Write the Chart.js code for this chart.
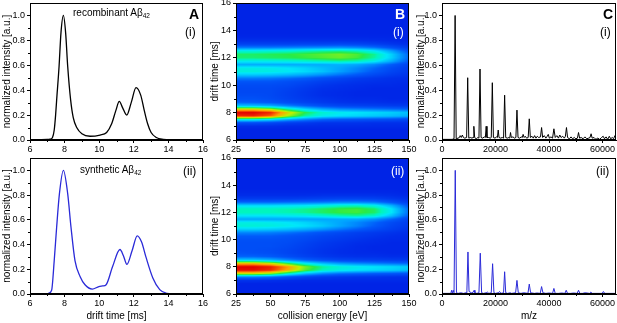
<!DOCTYPE html>
<html>
<head>
<meta charset="utf-8">
<script src="https://cdn.jsdelivr.net/npm/chart.js@4.4.0/dist/chart.umd.min.js"></script>
<style>
body { margin: 0; background: #fff; width: 617px; height: 323px; position: relative; overflow: hidden; font-family: "Liberation Sans", Arial, sans-serif; }
canvas { position: absolute; }
.lbl { position: absolute; white-space: nowrap; line-height: 1; color: #000; }
.lbl sub { font-size: 65%; vertical-align: -2px; }
.big { font-weight: bold; font-size: 14px; }
.num { font-size: 12px; }
.w { color: #fff; }
</style>
</head>
<body>
<canvas id="a1" width="215" height="163" style="left:0;top:-6px"></canvas>
<canvas id="a2" width="215" height="175" style="left:0;top:148px"></canvas>
<canvas id="b1" width="213" height="163" style="left:208px;top:-6px"></canvas>
<canvas id="b2" width="213" height="175" style="left:208px;top:148px"></canvas>
<canvas id="c1" width="203" height="163" style="left:414px;top:-6px"></canvas>
<canvas id="c2" width="203" height="175" style="left:414px;top:148px"></canvas>

<div class="lbl" style="left:73px;top:8px;font-size:10px">recombinant Aβ<sub>42</sub></div>
<div class="lbl big" style="left:189px;top:7px">A</div>
<div class="lbl num" style="left:185px;top:26px">(i)</div>
<div class="lbl" style="left:80px;top:165px;font-size:10px">synthetic Aβ<sub>42</sub></div>
<div class="lbl num" style="left:183px;top:165px">(ii)</div>
<div class="lbl big w" style="left:395px;top:7px">B</div>
<div class="lbl num w" style="left:393px;top:26px">(i)</div>
<div class="lbl num w" style="left:391px;top:165px">(ii)</div>
<div class="lbl big" style="left:603px;top:7px">C</div>
<div class="lbl num" style="left:600px;top:26px">(i)</div>
<div class="lbl num" style="left:596px;top:165px">(ii)</div>

<script>
// tick labels and minor ticks
const driftTicks = [6, 8, 10, 12, 14, 16];
const driftMinor = [7, 9, 11, 13, 15];
const intensityTicks = [0, 0.2, 0.4, 0.6, 0.8, 1.0];
const intensityMinor = [0.1, 0.3, 0.5, 0.7, 0.9];
const energyTicks = [25, 50, 75, 100, 125, 150];
const energyMinor = [37.5, 62.5, 87.5, 112.5, 137.5];
const mzTicks = [0, 20000, 40000, 60000];
const mzMinor = [10000, 30000, 50000];

// A: arrival time distributions
const driftRecomb = [6.0, 6.5, 7.0, 7.15, 7.3, 7.4, 7.48, 7.54, 7.68, 7.79,
    7.93, 8.06, 8.18, 8.35, 8.5, 8.7, 9.0, 9.47, 10.05, 10.43,
    10.72, 10.97, 11.16, 11.35, 11.59, 11.85, 12.13, 12.4, 12.6, 12.8,
    13.0, 13.3, 13.7, 14.2, 16.0];
const intRecomb = [0, 0.002, 0.004, 0.006, 0.02, 0.08, 0.2, 0.32, 0.59, 0.86,
    1.0, 0.86, 0.59, 0.32, 0.18, 0.1, 0.05, 0.03, 0.04, 0.06,
    0.13, 0.24, 0.31, 0.26, 0.2, 0.3, 0.42, 0.36, 0.24, 0.13,
    0.06, 0.02, 0.005, 0.001, 0];

const driftSynth = [6.0, 6.5, 7.0, 7.1, 7.25, 7.4, 7.54, 7.7, 7.93, 8.18,
    8.37, 8.6, 8.9, 9.18, 9.6, 9.98, 10.2, 10.4, 10.77, 11.2,
    11.4, 11.6, 11.9, 12.2, 12.45, 12.7, 13.1, 13.5, 13.9, 14.3,
    16.0];
const intSynth = [0, 0.001, 0.003, 0.008, 0.03, 0.27, 0.54, 0.81, 1.0, 0.81,
    0.54, 0.27, 0.14, 0.075, 0.04, 0.06, 0.065, 0.075, 0.22, 0.36,
    0.31, 0.24, 0.35, 0.47, 0.42, 0.3, 0.13, 0.035, 0.005, 0.001,
    0];

// B: drift time vs collision energy maps (rows = drift times, cols = energies)
const energies = [25, 37.5, 50, 62.5, 75, 87.5, 100, 112.5, 125, 137.5, 150];
const driftTimes = [6, 6.25, 6.5, 6.75, 7, 7.25, 7.5, 7.75, 8, 8.25,
    8.5, 8.75, 9, 9.25, 9.5, 9.75, 10, 10.25, 10.5, 10.75,
    11, 11.25, 11.5, 11.75, 12, 12.25, 12.5, 12.75, 13, 13.25,
    13.5, 13.75, 14, 14.25, 14.5, 14.75, 15, 15.25, 15.5, 15.75, 16];
const zeroRow = [0, 0, 0, 0, 0, 0, 0, 0, 0, 0, 0];

const mapRecomb = [
    zeroRow, zeroRow, zeroRow, zeroRow,
    [0.03, 0.03, 0.03, 0.02, 0.02, 0.02, 0.02, 0.02, 0.02, 0.02, 0.02],
    [0.14, 0.14, 0.12, 0.09, 0.07, 0.05, 0.05, 0.05, 0.04, 0.04, 0.04],
    [0.46, 0.46, 0.42, 0.33, 0.26, 0.2, 0.17, 0.16, 0.15, 0.14, 0.12],
    [0.94, 0.95, 0.88, 0.68, 0.52, 0.44, 0.41, 0.39, 0.37, 0.35, 0.32],
    [1.0, 1.0, 0.95, 0.75, 0.58, 0.48, 0.44, 0.42, 0.4, 0.38, 0.35],
    [0.74, 0.74, 0.68, 0.52, 0.4, 0.32, 0.27, 0.25, 0.23, 0.21, 0.19],
    [0.36, 0.35, 0.32, 0.25, 0.19, 0.14, 0.11, 0.1, 0.09, 0.08, 0.07],
    [0.2, 0.19, 0.17, 0.13, 0.1, 0.07, 0.05, 0.04, 0.04, 0.03, 0.03],
    [0.15, 0.15, 0.13, 0.1, 0.07, 0.05, 0.03, 0.02, 0.02, 0.01, 0.01],
    [0.13, 0.13, 0.12, 0.09, 0.06, 0.03, 0.02, 0.01, 0.01, 0.01, 0.01],
    [0.12, 0.12, 0.12, 0.09, 0.06, 0.03, 0.02, 0.01, 0.01, 0.01, 0.01],
    [0.12, 0.12, 0.12, 0.1, 0.07, 0.04, 0.03, 0.02, 0.01, 0.01, 0.01],
    [0.13, 0.13, 0.13, 0.12, 0.09, 0.06, 0.04, 0.03, 0.02, 0.02, 0.01],
    [0.16, 0.16, 0.16, 0.14, 0.12, 0.09, 0.07, 0.05, 0.04, 0.03, 0.02],
    [0.24, 0.24, 0.23, 0.21, 0.18, 0.14, 0.11, 0.08, 0.06, 0.04, 0.03],
    [0.37, 0.37, 0.36, 0.34, 0.31, 0.27, 0.22, 0.17, 0.12, 0.08, 0.05],
    [0.46, 0.46, 0.45, 0.43, 0.4, 0.36, 0.3, 0.24, 0.17, 0.11, 0.07],
    [0.45, 0.45, 0.44, 0.42, 0.39, 0.35, 0.31, 0.26, 0.2, 0.13, 0.08],
    [0.32, 0.32, 0.32, 0.32, 0.32, 0.32, 0.33, 0.31, 0.26, 0.18, 0.1],
    [0.44, 0.44, 0.45, 0.46, 0.48, 0.5, 0.52, 0.5, 0.44, 0.32, 0.17],
    [0.55, 0.55, 0.56, 0.57, 0.59, 0.61, 0.63, 0.6, 0.52, 0.38, 0.2],
    [0.56, 0.56, 0.57, 0.58, 0.6, 0.62, 0.64, 0.61, 0.53, 0.38, 0.2],
    [0.46, 0.46, 0.47, 0.48, 0.5, 0.52, 0.53, 0.5, 0.43, 0.3, 0.15],
    [0.24, 0.24, 0.24, 0.25, 0.26, 0.27, 0.28, 0.26, 0.22, 0.15, 0.08],
    [0.1, 0.1, 0.1, 0.1, 0.11, 0.11, 0.12, 0.11, 0.09, 0.06, 0.03],
    [0.04, 0.04, 0.04, 0.04, 0.04, 0.04, 0.04, 0.04, 0.03, 0.02, 0.01],
    [0.01, 0.01, 0.01, 0.01, 0.01, 0.01, 0.01, 0.01, 0.01, 0.01, 0],
    zeroRow, zeroRow, zeroRow, zeroRow, zeroRow, zeroRow, zeroRow, zeroRow, zeroRow, zeroRow
];

const mapSynth = [
    zeroRow, zeroRow, zeroRow, zeroRow,
    [0.05, 0.05, 0.04, 0.03, 0.02, 0.02, 0.02, 0.02, 0.02, 0.02, 0.02],
    [0.25, 0.25, 0.22, 0.15, 0.1, 0.07, 0.06, 0.05, 0.05, 0.04, 0.04],
    [0.72, 0.72, 0.66, 0.5, 0.36, 0.27, 0.22, 0.2, 0.18, 0.17, 0.15],
    [0.98, 0.98, 0.94, 0.8, 0.62, 0.5, 0.45, 0.42, 0.4, 0.38, 0.35],
    [1.0, 1.0, 0.96, 0.83, 0.65, 0.53, 0.47, 0.44, 0.42, 0.4, 0.37],
    [0.78, 0.78, 0.72, 0.58, 0.44, 0.35, 0.29, 0.26, 0.24, 0.22, 0.2],
    [0.38, 0.37, 0.33, 0.26, 0.19, 0.14, 0.11, 0.1, 0.09, 0.08, 0.07],
    [0.2, 0.2, 0.18, 0.14, 0.1, 0.07, 0.05, 0.04, 0.04, 0.03, 0.03],
    [0.16, 0.15, 0.14, 0.11, 0.08, 0.05, 0.03, 0.02, 0.02, 0.01, 0.01],
    [0.14, 0.14, 0.13, 0.11, 0.08, 0.05, 0.03, 0.02, 0.01, 0.01, 0.01],
    [0.14, 0.14, 0.14, 0.12, 0.09, 0.06, 0.04, 0.02, 0.01, 0.01, 0.01],
    [0.14, 0.14, 0.14, 0.13, 0.1, 0.07, 0.05, 0.03, 0.02, 0.01, 0.01],
    [0.15, 0.15, 0.15, 0.14, 0.12, 0.09, 0.07, 0.05, 0.03, 0.02, 0.02],
    [0.18, 0.18, 0.18, 0.16, 0.14, 0.11, 0.09, 0.07, 0.05, 0.03, 0.02],
    [0.25, 0.25, 0.24, 0.22, 0.19, 0.15, 0.12, 0.09, 0.07, 0.05, 0.03],
    [0.38, 0.38, 0.37, 0.35, 0.32, 0.28, 0.23, 0.18, 0.13, 0.09, 0.05],
    [0.47, 0.47, 0.46, 0.44, 0.41, 0.37, 0.31, 0.25, 0.18, 0.11, 0.07],
    [0.45, 0.45, 0.44, 0.42, 0.39, 0.35, 0.31, 0.26, 0.2, 0.13, 0.08],
    [0.31, 0.31, 0.31, 0.31, 0.31, 0.31, 0.32, 0.32, 0.28, 0.2, 0.1],
    [0.42, 0.42, 0.42, 0.43, 0.44, 0.47, 0.5, 0.52, 0.48, 0.35, 0.18],
    [0.5, 0.5, 0.5, 0.51, 0.53, 0.56, 0.59, 0.6, 0.56, 0.42, 0.21],
    [0.5, 0.5, 0.5, 0.51, 0.53, 0.56, 0.59, 0.6, 0.56, 0.42, 0.21],
    [0.4, 0.4, 0.4, 0.41, 0.42, 0.45, 0.48, 0.49, 0.45, 0.33, 0.16],
    [0.2, 0.2, 0.2, 0.21, 0.22, 0.23, 0.25, 0.25, 0.23, 0.16, 0.08],
    [0.08, 0.08, 0.08, 0.08, 0.09, 0.1, 0.11, 0.11, 0.1, 0.07, 0.04],
    [0.03, 0.03, 0.03, 0.03, 0.03, 0.04, 0.04, 0.04, 0.04, 0.03, 0.01],
    [0.01, 0.01, 0.01, 0.01, 0.01, 0.01, 0.01, 0.01, 0.01, 0.01, 0],
    zeroRow, zeroRow, zeroRow, zeroRow, zeroRow, zeroRow, zeroRow, zeroRow, zeroRow, zeroRow
];

// C: mass spectra
const mzRecomb = [0, 3800, 4500, 4900, 5300, 6000, 6500, 6800, 7200, 7600,
    8000, 8500, 9200, 9600, 10000, 10600, 11200, 11600, 11900, 12200,
    12800, 13400, 13800, 14200, 14600, 15200, 15800, 16200, 16500, 16800,
    17400, 18000, 18400, 18800, 19200, 19800, 20400, 20700, 21000, 21300,
    21900, 22500, 23000, 23400, 23800, 24400, 25000, 25300, 25600, 25900,
    26500, 27100, 27600, 28000, 28400, 29000, 29600, 30000, 30300, 30700,
    31100, 31600, 32200, 32600, 33000, 33600, 34100, 34600, 35100, 35600,
    36100, 36800, 37200, 37600, 38200, 38800, 39300, 39700, 40100, 40700,
    41300, 41800, 42300, 42900, 43500, 44000, 44500, 45100, 45700, 46100,
    46500, 46900, 47600, 48200, 48800, 49400, 50000, 50600, 51000, 51400,
    52000, 52700, 53400, 54100, 54800, 55300, 55700, 56100, 56800, 57500,
    58200, 58900, 59600, 60200, 60700, 61300, 61900, 62500, 63000, 63600,
    64100, 64600, 65000];
const intMsRecomb = [0.005, 0.005, 0.01, 1.0, 0.01, 0.015, 0.02, 0.035, 0.02, 0.04,
    0.02, 0.015, 0.02, 0.5, 0.015, 0.02, 0.015, 0.02, 0.11, 0.02,
    0.01, 0.02, 0.015, 0.57, 0.02, 0.015, 0.025, 0.02, 0.11, 0.02,
    0.02, 0.015, 0.02, 0.46, 0.02, 0.015, 0.025, 0.02, 0.08, 0.02,
    0.015, 0.02, 0.015, 0.36, 0.02, 0.015, 0.02, 0.015, 0.06, 0.02,
    0.025, 0.015, 0.02, 0.24, 0.02, 0.015, 0.025, 0.02, 0.045, 0.02,
    0.03, 0.015, 0.02, 0.17, 0.02, 0.03, 0.015, 0.035, 0.015, 0.03,
    0.02, 0.025, 0.1, 0.02, 0.035, 0.015, 0.03, 0.045, 0.015, 0.025,
    0.015, 0.09, 0.02, 0.035, 0.015, 0.04, 0.02, 0.03, 0.015, 0.03,
    0.1, 0.02, 0.01, 0.025, 0.01, 0.02, 0.01, 0.015, 0.06, 0.015,
    0.02, 0.01, 0.025, 0.01, 0.015, 0.02, 0.05, 0.015, 0.02, 0.005,
    0.015, 0.005, 0.02, 0.03, 0.01, 0.025, 0.005, 0.03, 0.01, 0.02,
    0.01, 0.035, 0.01];

const mzSynth = [0, 3300, 3600, 3900, 4200, 4500, 4950, 5400, 6000, 7000,
    8000, 9000, 9300, 9700, 10100, 11000, 11700, 12000, 12300, 13000,
    13800, 14300, 14800, 15500, 16500, 17000, 17500, 18400, 18900, 19400,
    20000, 21000, 21500, 22000, 23000, 23400, 23800, 24500, 25500, 26000,
    27500, 28000, 28500, 29500, 30500, 32100, 32600, 33100, 34500, 35500,
    36700, 37200, 37700, 38800, 40000, 41300, 41800, 42300, 43500, 44700,
    45900, 46400, 46900, 48000, 49200, 50500, 51000, 51500, 52500, 53500,
    55100, 55600, 56100, 57500, 59000, 59800, 60300, 60800, 62000, 63500,
    65000];
const intMsSynth = [0.005, 0.005, 0.03, 0.005, 0.03, 0.01, 1.0, 0.01, 0.005, 0.01,
    0.005, 0.01, 0.03, 0.34, 0.02, 0.01, 0.015, 0.03, 0.01, 0.005,
    0.01, 0.33, 0.01, 0.005, 0.01, 0.015, 0.005, 0.01, 0.245, 0.01,
    0.005, 0.01, 0.02, 0.005, 0.01, 0.18, 0.01, 0.005, 0.01, 0.005,
    0.01, 0.11, 0.01, 0.005, 0.01, 0.005, 0.08, 0.01, 0.005, 0.008,
    0.005, 0.06, 0.01, 0.005, 0.008, 0.005, 0.045, 0.005, 0.005, 0.008,
    0.005, 0.03, 0.005, 0.005, 0.008, 0.005, 0.03, 0.005, 0.005, 0.01,
    0.005, 0.015, 0.005, 0.005, 0.005, 0.005, 0.02, 0.005, 0.005, 0.005,
    0.005];

const BLUE = '#2a2ad8';

Chart.defaults.font.family = "'Liberation Sans', Arial, sans-serif";
Chart.defaults.font.size = 9;
Chart.defaults.color = '#000';
Chart.defaults.animation = false;

function toPoints(xs, ys) {
    return xs.map((x, i) => ({ x: x, y: ys[i] }));
}

// full frame round the plot area, plus short minor ticks on the two axes
function framePlugin(xMinor, yMinor) {
    return {
        id: 'frame',
        afterDraw(chart) {
            const { left, top, right, bottom } = chart.chartArea;
            const ctx = chart.ctx;
            const L = Math.round(left), T = Math.round(top), R = Math.round(right), B = Math.round(bottom);
            ctx.save();
            ctx.strokeStyle = '#000';
            ctx.lineWidth = 1;
            ctx.strokeRect(L + 0.5, T + 0.5, R - L - 1, B - T - 1);
            ctx.beginPath();
            xMinor.forEach(v => {
                const px = Math.round(chart.scales.x.getPixelForValue(v)) + 0.5;
                ctx.moveTo(px, B);
                ctx.lineTo(px, B + 2);
            });
            yMinor.forEach(v => {
                const py = Math.round(chart.scales.y.getPixelForValue(v)) + 0.5;
                ctx.moveTo(L, py);
                ctx.lineTo(L - 2, py);
            });
            ctx.stroke();
            ctx.restore();
        }
    };
}

const colorStops = [
    [0, [0, 36, 230]], [0.18, [0, 90, 250]], [0.3, [0, 160, 255]], [0.42, [0, 230, 250]],
    [0.5, [0, 245, 190]], [0.58, [40, 235, 70]], [0.7, [190, 240, 0]], [0.82, [255, 160, 0]],
    [0.92, [245, 60, 0]], [1, [225, 0, 0]]
];

function colorFor(v) {
    v = Math.max(0, Math.min(1, v));
    for (let i = 1; i < colorStops.length; i++) {
        if (v <= colorStops[i][0]) {
            const [v0, c0] = colorStops[i - 1];
            const [v1, c1] = colorStops[i];
            const t = (v - v0) / (v1 - v0);
            return [0, 1, 2].map(k => c0[k] + (c1[k] - c0[k]) * t);
        }
    }
    return colorStops[colorStops.length - 1][1];
}

function findCell(arr, v) {
    if (v <= arr[0]) return [0, 0];
    const n = arr.length - 1;
    if (v >= arr[n]) return [n - 1, 1];
    let i = 0;
    while (arr[i + 1] < v) i++;
    return [i, (v - arr[i]) / (arr[i + 1] - arr[i])];
}

function sampleMap(grid, ce, dt) {
    const [i, fx] = findCell(energies, ce);
    const [j, fy] = findCell(driftTimes, dt);
    const a = grid[j][i], b = grid[j][i + 1], c = grid[j + 1][i], d = grid[j + 1][i + 1];
    return (a * (1 - fx) + b * fx) * (1 - fy) + (c * (1 - fx) + d * fx) * fy;
}

// paints the map under the frame, pixel by pixel through the chart scales
function heatPlugin(grid) {
    return {
        id: 'heat',
        beforeDatasetsDraw(chart) {
            const { left, top, right, bottom } = chart.chartArea;
            const w = Math.round(right - left), h = Math.round(bottom - top);
            const xs = chart.scales.x, ys = chart.scales.y;
            const off = document.createElement('canvas');
            off.width = w; off.height = h;
            const octx = off.getContext('2d');
            const img = octx.createImageData(w, h);
            for (let py = 0; py < h; py++) {
                const dt = ys.getValueForPixel(top + py + 0.5);
                for (let px = 0; px < w; px++) {
                    const ce = xs.getValueForPixel(left + px + 0.5);
                    const c = colorFor(sampleMap(grid, ce, dt));
                    const k = (py * w + px) * 4;
                    img.data[k] = c[0]; img.data[k + 1] = c[1]; img.data[k + 2] = c[2]; img.data[k + 3] = 255;
                }
            }
            octx.putImageData(img, 0, 0);
            chart.ctx.drawImage(off, Math.round(left), Math.round(top));
        }
    };
}

function setTicks(values) {
    return s => { s.ticks = values.map(v => ({ value: v })); };
}

function axisX(min, max, values, fmt, title, height) {
    return {
        type: 'linear', min: min, max: max,
        afterFit: s => { s.height = height; },
        afterBuildTicks: setTicks(values),
        ticks: { padding: 1, callback: fmt },
        grid: { drawOnChartArea: false, tickLength: 3, color: '#000' },
        border: { color: '#000' },
        title: { display: !!title, text: title || '', font: { size: 10 }, padding: { top: 0, bottom: 1 } }
    };
}

function axisY(min, max, values, fmt, title, width) {
    return {
        type: 'linear', min: min, max: max,
        afterFit: s => { s.width = width; },
        afterBuildTicks: setTicks(values),
        ticks: { padding: 2, callback: fmt },
        grid: { drawOnChartArea: false, tickLength: 3, color: '#000' },
        border: { color: '#000' },
        title: { display: true, text: title, font: { size: 10 }, padding: { top: 1, bottom: 0 } }
    };
}

const fmt1 = v => v.toFixed(1);
const fmt0 = v => String(Math.round(v));

function makeChart(id, opts) {
    return new Chart(document.getElementById(id), {
        type: 'scatter',
        data: { datasets: opts.datasets },
        plugins: opts.plugins,
        options: {
            responsive: false,
            devicePixelRatio: 1,
            layout: { padding: opts.padding },
            plugins: { legend: { display: false }, tooltip: { enabled: false } },
            scales: { x: opts.x, y: opts.y }
        }
    });
}

function lineSet(xs, ys, color, width, smooth) {
    return {
        data: toPoints(xs, ys),
        showLine: true,
        borderColor: color,
        borderWidth: width,
        pointRadius: 0,
        cubicInterpolationMode: smooth ? 'monotone' : 'default',
        tension: 0
    };
}

const intensityTitle = 'normalized intensity [a.u.]';

// column A
makeChart('a1', {
    datasets: [lineSet(driftRecomb, intRecomb, '#000', 1.3, true)],
    plugins: [framePlugin(driftMinor, intensityMinor)],
    padding: { top: 9, right: 12, left: 0, bottom: 0 },
    x: axisX(6, 16, driftTicks, fmt0, '', 17),
    y: axisY(0, 1.1, intensityTicks, fmt1, intensityTitle, 30)
});
makeChart('a2', {
    datasets: [lineSet(driftSynth, intSynth, BLUE, 1.3, true)],
    plugins: [framePlugin(driftMinor, intensityMinor)],
    padding: { top: 10, right: 12, left: 0, bottom: 0 },
    x: axisX(6, 16, driftTicks, fmt0, 'drift time [ms]', 29),
    y: axisY(0, 1.1, intensityTicks, fmt1, intensityTitle, 30)
});

// column B
makeChart('b1', {
    datasets: [{ data: [] }],
    plugins: [heatPlugin(mapRecomb), framePlugin(energyMinor, driftMinor)],
    padding: { top: 9, right: 12, left: 0, bottom: 0 },
    x: axisX(25, 150, energyTicks, fmt0, '', 17),
    y: axisY(6, 16, driftTicks, fmt0, 'drift time [ms]', 28)
});
makeChart('b2', {
    datasets: [{ data: [] }],
    plugins: [heatPlugin(mapSynth), framePlugin(energyMinor, driftMinor)],
    padding: { top: 10, right: 12, left: 0, bottom: 0 },
    x: axisX(25, 150, energyTicks, fmt0, 'collision energy [eV]', 29),
    y: axisY(6, 16, driftTicks, fmt0, 'drift time [ms]', 28)
});

// column C
makeChart('c1', {
    datasets: [lineSet(mzRecomb, intMsRecomb, '#000', 1, false)],
    plugins: [framePlugin(mzMinor, intensityMinor)],
    padding: { top: 9, right: 1, left: 0, bottom: 0 },
    x: axisX(0, 65000, mzTicks, fmt0, '', 17),
    y: axisY(0, 1.1, intensityTicks, fmt1, intensityTitle, 28)
});
makeChart('c2', {
    datasets: [lineSet(mzSynth, intMsSynth, BLUE, 1, false)],
    plugins: [framePlugin(mzMinor, intensityMinor)],
    padding: { top: 10, right: 1, left: 0, bottom: 0 },
    x: axisX(0, 65000, mzTicks, fmt0, 'm/z', 29),
    y: axisY(0, 1.1, intensityTicks, fmt1, intensityTitle, 28)
});
</script>
</body>
</html>
